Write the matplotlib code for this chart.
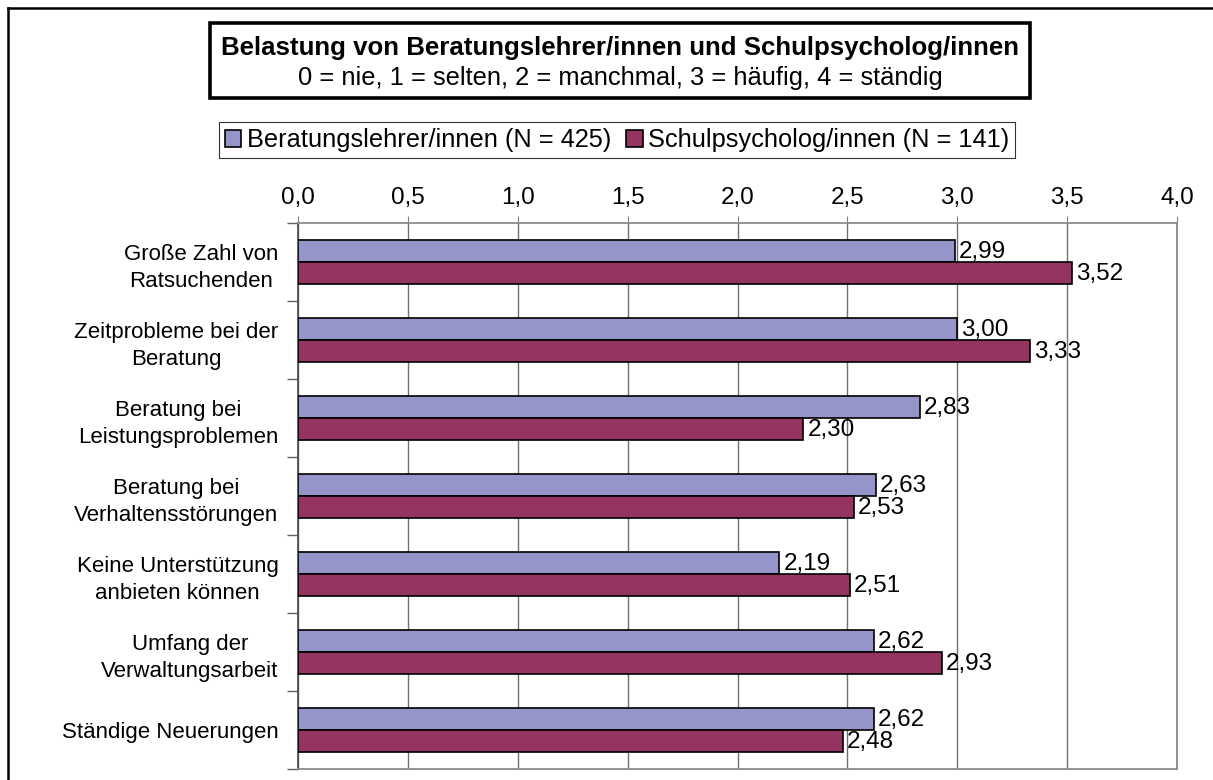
import matplotlib
matplotlib.use("Agg")
import matplotlib.pyplot as plt
from matplotlib.patches import Rectangle, Patch
from matplotlib.lines import Line2D
from matplotlib.ticker import FixedLocator
import numpy as np

categories = [
    "Große Zahl von\nRatsuchenden",
    "Zeitprobleme bei der\nBeratung",
    "Beratung bei\nLeistungsproblemen",
    "Beratung bei\nVerhaltensstörungen",
    "Keine Unterstützung\nanbieten können",
    "Umfang der\nVerwaltungsarbeit",
    "Ständige Neuerungen",
]
beratungslehrer = [2.99, 3.00, 2.83, 2.63, 2.19, 2.62, 2.62]
schulpsychologen = [3.52, 3.33, 2.30, 2.53, 2.51, 2.93, 2.48]
series_names = ["Beratungslehrer/innen (N = 425)", "Schulpsycholog/innen (N = 141)"]
x_ticks = [0.0, 0.5, 1.0, 1.5, 2.0, 2.5, 3.0, 3.5, 4.0]
title = "Belastung von Beratungslehrer/innen und Schulpsycholog/innen"
subtitle = "0 = nie, 1 = selten, 2 = manchmal, 3 = häufig, 4 = ständig"

plt.rcParams['font.family'] = ['Liberation Sans', 'DejaVu Sans']
FS_CAT = 16
FS_TICK = 17.5
FS_VAL = 17.5
FS_LEG = 18.3
FS_TITLE = 18.6
FS_SUB = 18.4
c1 = "#9595C9"
c2 = "#943461"

W, H = 1213, 780
fig = plt.figure(figsize=(W / 100, H / 100), dpi=100)
fig.patch.set_facecolor("white")

def fx(px):
    return px / W

def fy(py):
    return 1 - py / H

ax = fig.add_axes([fx(298), fy(769), fx(1177) - fx(298), fy(223) - fy(769)])

y = np.arange(len(categories))
bh = 0.28
ax.barh(y - bh / 2, beratungslehrer, height=bh, color=c1, edgecolor="black", linewidth=1.2, zorder=3)
ax.barh(y + bh / 2, schulpsychologen, height=bh, color=c2, edgecolor="black", linewidth=1.2, zorder=3)

for yi, v in zip(y, beratungslehrer):
    ax.annotate(f"{v:.2f}".replace(".", ","), (v, yi - bh / 2), xytext=(3, -1),
                textcoords="offset points", va="center", ha="left", fontsize=FS_VAL, zorder=4)
for yi, v in zip(y, schulpsychologen):
    ax.annotate(f"{v:.2f}".replace(".", ","), (v, yi + bh / 2), xytext=(3, -1),
                textcoords="offset points", va="center", ha="left", fontsize=FS_VAL, zorder=4)

ax.set_xlim(0, 4)
ax.set_ylim(len(categories) - 0.5, -0.5)
ax.xaxis.set_major_locator(FixedLocator(x_ticks))
ax.set_xticklabels([f"{t:.1f}".replace(".", ",") for t in x_ticks], fontsize=FS_TICK)
ax.xaxis.tick_top()
ax.tick_params(axis="x", direction="out", length=5, color="#808080", pad=5)
ax.grid(axis="x", color="#707070", linewidth=1, zorder=0)

ax.set_yticks(y)
ax.set_yticklabels(categories, fontsize=FS_CAT)
for lbl in ax.get_yticklabels():
    lbl.set_multialignment("center")
    lbl.set_linespacing(1.4)
ax.tick_params(axis="y", which="major", length=0, pad=14)
ax.yaxis.set_minor_locator(FixedLocator(np.arange(-0.5, len(categories), 1.0)))
ax.tick_params(axis="y", which="minor", length=8, color="#606060", width=1)

for s in ["top", "right", "bottom"]:
    ax.spines[s].set_color("#8c8c8c")
    ax.spines[s].set_linewidth(1.3)
ax.spines["left"].set_color("#505050")
ax.spines["left"].set_linewidth(1.3)

# outer frame (left and top visible)
fig.add_artist(Line2D([fx(8), fx(8)], [fy(8), 0], color="black", linewidth=1.8))
fig.add_artist(Line2D([fx(8), 1], [fy(8), fy(8)], color="black", linewidth=1.8))

# title box
fig.add_artist(Rectangle((fx(210), fy(98)), fx(1030) - fx(210), fy(23) - fy(98),
                         transform=fig.transFigure, facecolor="white", edgecolor="black", linewidth=2.6))
fig.text(fx(620), fy(48), title, ha="center", va="center", fontsize=FS_TITLE, fontweight="bold")
fig.text(fx(620), fy(78), subtitle, ha="center", va="center", fontsize=FS_SUB)

handles = [Patch(facecolor=c1, edgecolor="black", linewidth=1.2),
           Patch(facecolor=c2, edgecolor="black", linewidth=1.2)]
leg = fig.legend(handles, series_names, loc="center", bbox_to_anchor=(fx(617), fy(140)),
                 ncol=2, fontsize=FS_LEG, frameon=True, fancybox=False, edgecolor="black",
                 handlelength=0.65, handleheight=0.65, handletextpad=0.2, columnspacing=0.6,
                 borderpad=0.22, borderaxespad=0)
leg.get_frame().set_linewidth(0.8)

fig.savefig("out.png", dpi=100, facecolor="white")
